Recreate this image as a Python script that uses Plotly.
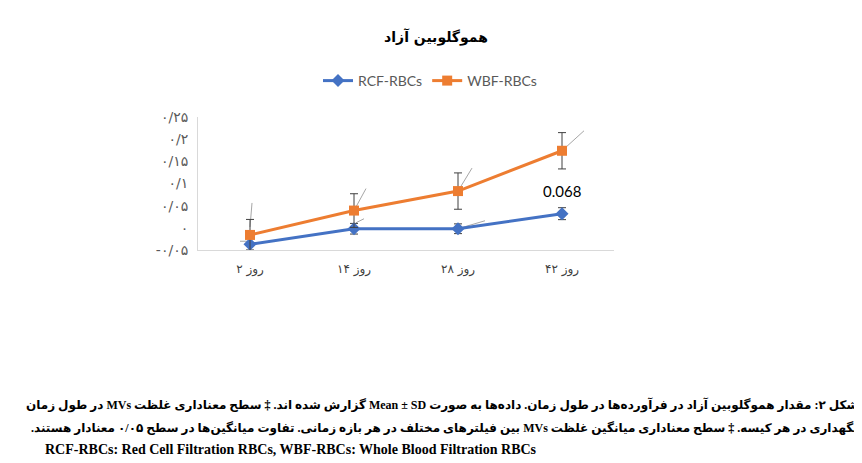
import plotly.graph_objects as go

# data
days = ["روز ۲", "روز ۱۴", "روز ۲۸", "روز ۴۲"]
rcf = [-0.037, -0.002, -0.002, 0.032]
rcf_sd = [0.013, 0.012, 0.011, 0.0135]
wbf = [-0.016, 0.039, 0.083, 0.174]
wbf_sd = [0.035, 0.038, 0.041, 0.041]
ytick_vals = [-0.05, 0, 0.05, 0.1, 0.15, 0.2, 0.25]
ytick_text = ["-۰/۰۵", "۰", "۰/۰۵", "۰/۱", "۰/۱۵", "۰/۲", "۰/۲۵"]
label_042 = "0.068"

title = "هموگلوبین آزاد"
caption = [
    "شکل ۲: مقدار هموگلوبین آزاد در فرآورده‌ها در طول زمان. داده‌ها به صورت Mean ± SD گزارش شده اند. ‡ سطح معناداری غلظت MVs در طول زمان",
    "نگهداری در هر کیسه. ‡ سطح معناداری میانگین غلظت MVs بین فیلترهای مختلف در هر بازه زمانی. تفاوت میانگین‌ها در سطح ۰/۰۵ معنادار هستند.",
    "RCF-RBCs: Red Cell Filtration RBCs, WBF-RBCs: Whole Blood Filtration RBCs",
]

W, H = 862, 463
L, R, T, B = 190, 256, 106, 221
BLUE = "#4472C4"
ORANGE = "#ED7D31"
FA = "DejaVu Sans"
RLE, PDF = "\u202b", "\u202c"

fig = go.Figure()
fig.add_trace(go.Scatter(
    x=days, y=rcf, name="RCF-RBCs", mode="lines+markers",
    line=dict(color=BLUE, width=3),
    marker=dict(symbol="diamond", size=10, color=BLUE),
    error_y=dict(type="data", array=rcf_sd, color="#404040", thickness=1, width=4),
))
fig.add_trace(go.Scatter(
    x=days, y=wbf, name="WBF-RBCs", mode="lines+markers",
    line=dict(color=ORANGE, width=3),
    marker=dict(symbol="square", size=10, color=ORANGE),
    error_y=dict(type="data", array=wbf_sd, color="#404040", thickness=1, width=4),
))

# leader lines (gray) anchored at points, pixel offsets
leaders = [
    (days[0], wbf[0], 0, 8, 2, 32),
    (days[1], wbf[1], 0, 0, 12, 22),
    (days[2], wbf[2], 0, 0, 14, 23),
    (days[3], wbf[3], 0, 0, 22, 20),
    (days[0], rcf[0], -10, 3, -2, 3),
    (days[1], rcf[1], 2, 6, 10, 10),
    (days[2], rcf[2], 0, 0, 27, 8),
]
for xa, ya, x0, y0, x1, y1 in leaders:
    fig.add_shape(type="line", xref="x", yref="y", xsizemode="pixel", ysizemode="pixel",
                  xanchor=xa, yanchor=ya, x0=x0, y0=y0, x1=x1, y1=y1,
                  line=dict(color="#A6A6A6", width=1), layer="below")

fig.add_annotation(x=days[3], y=rcf[3], yshift=23, text=label_042, showarrow=False,
                   font=dict(family="Lato", size=15, color="#000000"))


def px(xp):
    return (xp - L) / (W - L - R)


def py(yp):
    return (H - B - yp) / (H - T - B)


cap_y = [401, 425, 446]
for i, line in enumerate(caption[:2]):
    fig.add_annotation(x=px(852), y=py(cap_y[i]), xref="paper", yref="paper",
                       xanchor="right", yanchor="middle", showarrow=False,
                       text="<b>" + RLE + line + PDF + "</b>",
                       font=dict(family="Liberation Serif, " + FA, size=12, color="#000000"))
fig.add_annotation(x=px(35), y=py(cap_y[2]), xref="paper", yref="paper",
                   xanchor="left", yanchor="middle", showarrow=False,
                   text="<b>" + caption[2] + "</b>",
                   font=dict(family="Liberation Serif", size=14, color="#000000"))

fig.update_layout(
    width=W, height=H,
    margin=dict(l=L, r=R, t=T, b=B),
    paper_bgcolor="white", plot_bgcolor="white",
    title=dict(text="<b>" + title + "</b>", x=428 / W, xref="container", xanchor="center",
               y=1 - 29 / H, yref="container", yanchor="middle",
               font=dict(family=FA, size=14, color="#000000")),
    legend=dict(orientation="h", xref="container", x=422 / W, xanchor="center",
                yref="container", y=1 - 73 / H, yanchor="middle",
                font=dict(family="Lato", size=14, color="#595959")),
    showlegend=True,
)
fig.update_xaxes(type="category", range=[-0.5, 3.5], showline=True, linecolor="#D9D9D9",
                 showgrid=False, ticks="", zeroline=False, ticklabelstandoff=8,
                 tickfont=dict(family=FA, size=12, color="#404040"))
fig.update_yaxes(range=[-0.05, 0.25], tickvals=ytick_vals, ticktext=ytick_text,
                 showline=True, linecolor="#D9D9D9", showgrid=False, zeroline=False,
                 ticks="", ticklabelstandoff=6,
                 tickfont=dict(family=FA, size=14, color="#595959"))

fig.write_html("out.html")
